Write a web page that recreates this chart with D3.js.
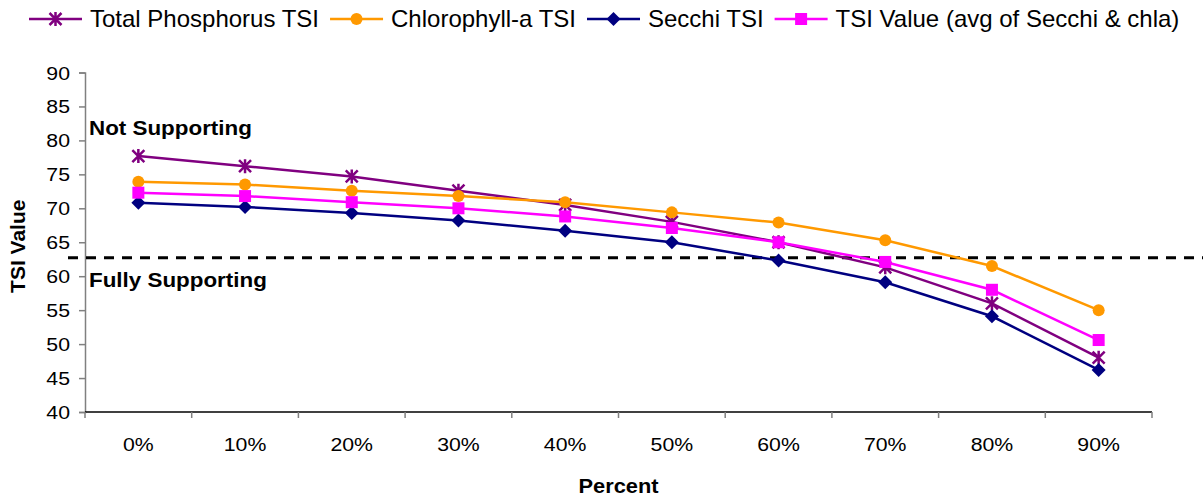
<!DOCTYPE html>
<html>
<head>
<meta charset="utf-8">
<script src="https://cdn.jsdelivr.net/npm/d3@7"></script>
<style>
body { margin: 0; background: #fff; }
text { font-family: Arial, "Liberation Sans", sans-serif; }
</style>
</head>
<body>
<div id="canvas"></div>
<script>
// ----------------------------------------------------------
// DATA -----------------------------------------------------
// ----------------------------------------------------------
var categories = ["0%", "10%", "20%", "30%", "40%", "50%", "60%", "70%", "80%", "90%"];

var total_phosphorus = [77.7, 76.2, 74.7, 72.6, 70.5, 68.0, 65.0, 61.3, 56.0, 48.0];
var chlorophyll = [73.9, 73.5, 72.6, 71.8, 70.9, 69.4, 67.9, 65.3, 61.5, 55.0];
var secchi = [70.8, 70.2, 69.3, 68.2, 66.7, 65.0, 62.3, 59.1, 54.1, 46.2];
var tsi_value = [72.3, 71.8, 70.9, 70.0, 68.8, 67.1, 65.0, 62.1, 58.0, 50.6];

var y_ticks = [40, 45, 50, 55, 60, 65, 70, 75, 80, 85, 90];
var threshold = 62.7;

var series = [
{ name: "Total Phosphorus TSI", values: total_phosphorus, color: "#800080", marker: "star" },
{ name: "Chlorophyll-a TSI", values: chlorophyll, color: "#FF9900", marker: "circle" },
{ name: "Secchi TSI", values: secchi, color: "#000080", marker: "diamond" },
{ name: "TSI Value (avg of Secchi & chla)", values: tsi_value, color: "#FF00FF", marker: "square" }
];

var data_set =
{
container_width: 1203,
container_height: 502,
margin_left: 85,
margin_top: 72.5,
plot_width: 1067,
plot_height: 339.5,
stretch: 1.12
};

// ----------------------------------------------------------
// STRUCTURE ------------------------------------------------
// ----------------------------------------------------------
var width = data_set.plot_width;
var height = data_set.plot_height;

var container = d3.select("#canvas").append("svg")
.attr("width", data_set.container_width)
.attr("height", data_set.container_height)
.style("background-color", "#fff");

var gfx_diagram = container.append("g")
.attr("class", "gfx_diagram")
.attr("transform", `translate(${data_set.margin_left}, ${data_set.margin_top})`);

// scales
var xScale = d3.scaleBand()
.range([0, width])
.domain(categories);

var yScale = d3.scaleLinear()
.range([height, 0])
.domain([40, 90]);

var cx = (c) => xScale(c) + xScale.bandwidth() / 2;

// stretched text (the source chart's text is a bit wide)
function wideText(parent, x, y, str, size, bold, anchor) {
var g = parent.append("g")
.attr("transform", `translate(${x}, ${y}) scale(${data_set.stretch}, 1)`);
g.append("text")
.attr("text-anchor", anchor || "start")
.attr("fill", "#000")
.style("font-size", size + "px")
.style("font-weight", bold ? "bold" : "normal")
.text(str);
return g;
}

// ----------------------------------------------------------
// AXES -----------------------------------------------------
// ----------------------------------------------------------
// left
var axis_left = gfx_diagram.append("g")
.attr("class", "gfx_scale_left")
.call(d3.axisLeft(yScale).tickValues(y_ticks).tickSize(6).tickFormat(""));
axis_left.select(".domain").attr("stroke", "#808080").attr("stroke-width", 1.5);
axis_left.selectAll(".tick line").attr("stroke", "#808080").attr("stroke-width", 1.5);
y_ticks.forEach(function (v) {
wideText(axis_left, -15, yScale(v) + 7, v, 19, false, "end");
});

// bottom - ticks between categories
var axis_bottom = gfx_diagram.append("g")
.attr("class", "gfx_scale_bottom")
.attr("transform", `translate(0, ${height})`);
axis_bottom.append("line")
.attr("x1", 0).attr("x2", width)
.attr("stroke", "#000").attr("stroke-width", 1.5);
axis_bottom.selectAll(".tick_mark")
.data(categories.concat(["end"]))
.enter()
.append("line")
.attr("class", "tick_mark")
.attr("x1", (d, i) => i < categories.length ? xScale(d) : width)
.attr("x2", (d, i) => i < categories.length ? xScale(d) : width)
.attr("y1", 0).attr("y2", 6)
.attr("stroke", "#808080").attr("stroke-width", 1.5);
categories.forEach(function (c) {
wideText(axis_bottom, cx(c), 39, c, 19, false, "middle");
});

// axis titles
wideText(container, data_set.margin_left + width / 2, 493, "Percent", 19.5, true, "middle");

container.append("text")
.attr("transform", `translate(25, ${data_set.margin_top + height / 2 + 4}) rotate(-90)`)
.attr("text-anchor", "middle")
.style("font-size", "21px")
.style("font-weight", "bold")
.text("TSI Value");

// ----------------------------------------------------------
// THRESHOLD ------------------------------------------------
// ----------------------------------------------------------
gfx_diagram.append("line")
.attr("x1", -17)
.attr("x2", data_set.container_width - data_set.margin_left)
.attr("y1", yScale(threshold))
.attr("y2", yScale(threshold))
.attr("stroke", "#000")
.attr("stroke-width", 3)
.attr("stroke-dasharray", "10,8");

wideText(gfx_diagram, 4, yScale(threshold) - 122.5, "Not Supporting", 20, true);
wideText(gfx_diagram, 4, yScale(threshold) + 29.5, "Fully Supporting", 20, true);

// ----------------------------------------------------------
// MARKERS --------------------------------------------------
// ----------------------------------------------------------
function drawMarker(sel, type, color) {
if (type === "circle") {
sel.append("circle").attr("r", 6).attr("fill", color);
} else if (type === "square") {
sel.append("rect").attr("x", -6).attr("y", -6).attr("width", 12).attr("height", 12).attr("fill", color);
} else if (type === "diamond") {
sel.append("path").attr("d", "M0,-7L7,0L0,7L-7,0Z").attr("fill", color);
} else if (type === "star") {
sel.append("path")
.attr("d", "M0,-7L0,7M-6,-6L6,6M-6,6L6,-6")
.attr("stroke", color)
.attr("stroke-width", 2.5)
.attr("fill", "none");
}
}

// ----------------------------------------------------------
// LINES ----------------------------------------------------
// ----------------------------------------------------------
var line = d3.line()
.x((d, i) => cx(categories[i]))
.y((d) => yScale(d));

series.forEach(function (s) {
var g = gfx_diagram.append("g").attr("class", "gfx_series");
g.append("path")
.attr("d", line(s.values))
.attr("fill", "none")
.attr("stroke", s.color)
.attr("stroke-width", 2.5);
g.selectAll(".pt")
.data(s.values)
.enter()
.append("g")
.attr("class", "pt")
.attr("transform", (d, i) => `translate(${cx(categories[i])}, ${yScale(d)})`)
.each(function () { drawMarker(d3.select(this), s.marker, s.color); });
});

// ----------------------------------------------------------
// LEGEND ---------------------------------------------------
// ----------------------------------------------------------
var legend = container.append("g").attr("class", "legend");
var lx = 29;
series.forEach(function (s) {
var item = legend.append("g").attr("transform", `translate(${lx}, 19)`);
item.append("line")
.attr("x1", 0).attr("x2", 53)
.attr("stroke", s.color).attr("stroke-width", 2.5);
var m = item.append("g").attr("transform", "translate(26.5, 0)");
drawMarker(m, s.marker, s.color);
var t = item.append("text")
.attr("x", 61)
.attr("y", 8)
.style("font-size", "24px")
.text(s.name);
lx += 61 + t.node().getComputedTextLength() + 11;
});
</script>
</body>
</html>
